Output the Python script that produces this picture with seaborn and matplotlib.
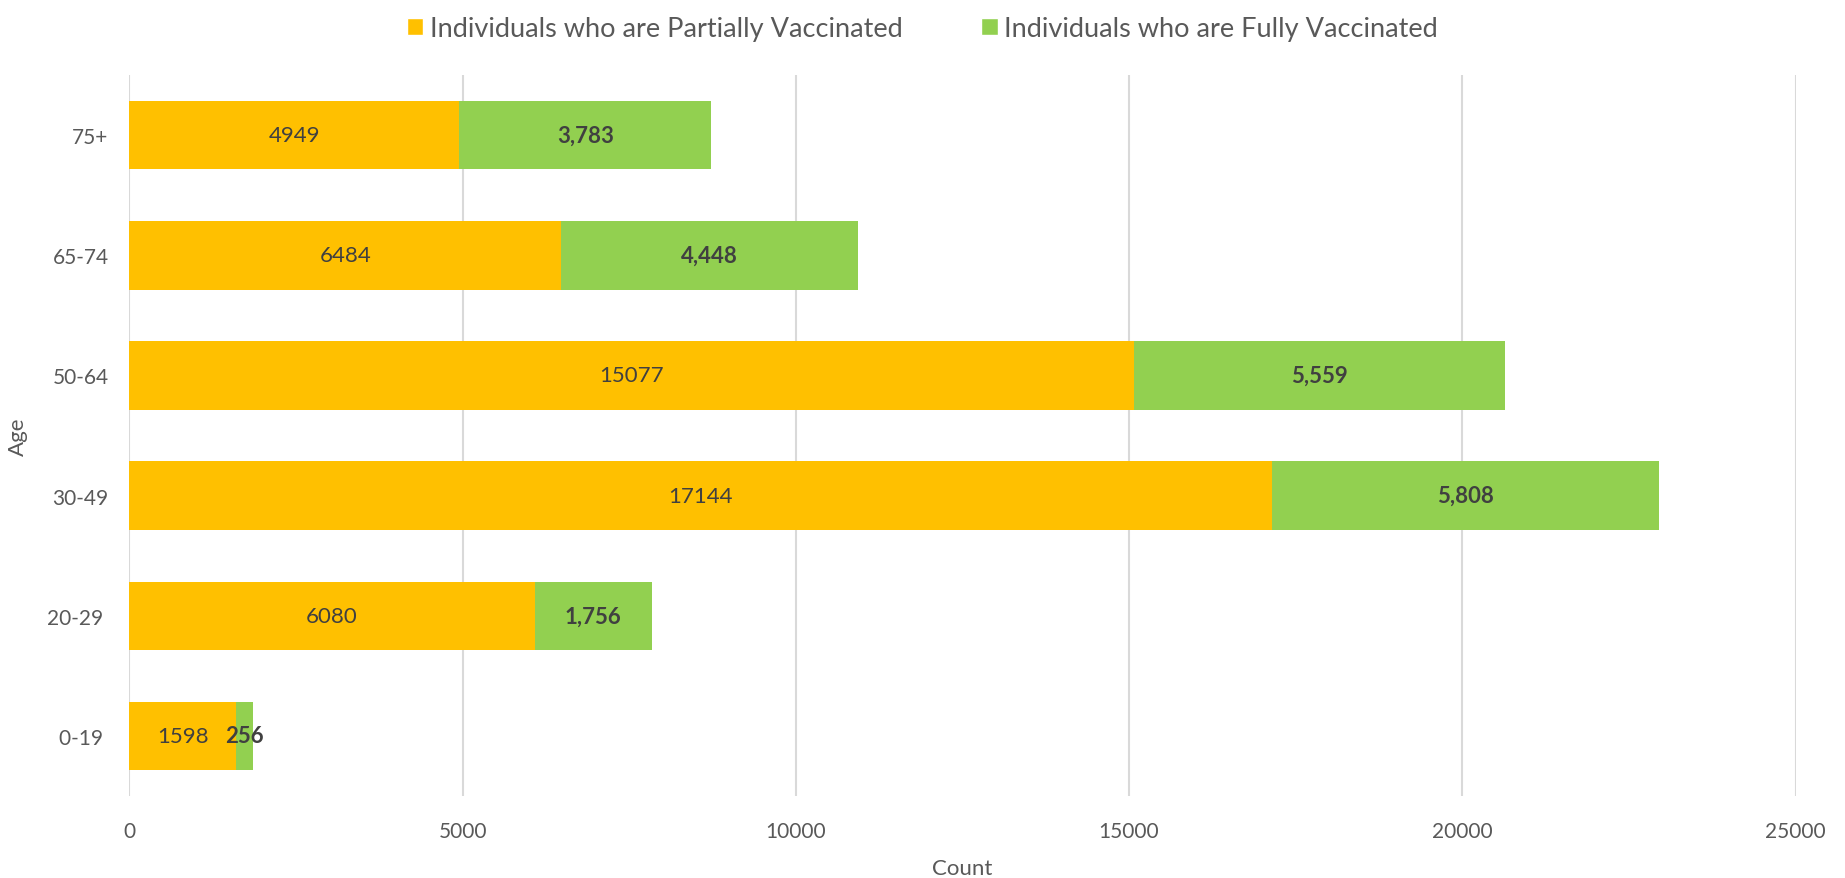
import pandas as pd
import matplotlib.pyplot as plt
import seaborn as sns
from matplotlib.patches import Patch

# values
age_groups = ["75+", "65-74", "50-64", "30-49", "20-29 ", "0-19 "]
partially_vaccinated = [4949, 6484, 15077, 17144, 6080, 1598]
fully_vaccinated = [3783, 4448, 5559, 5808, 1756, 256]
x_ticks = [0, 5000, 10000, 15000, 20000, 25000]

df = pd.DataFrame({
    "Age": age_groups,
    "Partial": partially_vaccinated,
    "Full": fully_vaccinated,
})
df["Total"] = df["Partial"] + df["Full"]

orange = "#FFC000"
green = "#92D050"
label_color = "#404040"
tick_color = "#595959"

sns.set_style("white")
plt.rcParams["font.family"] = ["Lato", "DejaVu Sans"]

fig = plt.figure(figsize=(18.45, 8.79), dpi=100)
ax = fig.add_axes([0.0701, 0.0933, 0.9031, 0.8202])

# stacked bars: draw the totals in green, then the partial part on top in orange
sns.barplot(data=df, x="Total", y="Age", color=green, width=0.57,
            saturation=1, orient="h", ax=ax, zorder=2, linewidth=0)
sns.barplot(data=df, x="Partial", y="Age", color=orange, width=0.57,
            saturation=1, orient="h", ax=ax, zorder=3, linewidth=0)

# labels
for i, row in df.iterrows():
    ax.text(row["Partial"] / 2, i, f"{row['Partial']}", ha="center", va="center",
            fontsize=16, color=label_color, zorder=4)
    ax.text(row["Partial"] + row["Full"] / 2, i, f"{row['Full']:,}", ha="center",
            va="center", fontsize=16, fontweight="bold", color=label_color, zorder=4)

ax.set_xlim(0, 25000)
ax.set_ylim(5.5, -0.5)
ax.set_xticks(x_ticks)
ax.set_xticklabels([str(t) for t in x_ticks])
ax.grid(axis="x", color="#D9D9D9", linewidth=1.5, zorder=0)
ax.grid(axis="y", visible=False)
for s in ax.spines.values():
    s.set_visible(False)
ax.tick_params(axis="x", length=0, pad=18, labelsize=15, labelcolor=tick_color)
ax.tick_params(axis="y", length=0, pad=15, labelsize=15, labelcolor=tick_color)
ax.set_xlabel("Count", fontsize=16, color=tick_color, labelpad=12)
ax.set_ylabel("Age", fontsize=16, color=tick_color, labelpad=14)

handles = [Patch(facecolor=orange, label="Individuals who are Partially Vaccinated"),
           Patch(facecolor=green, label="Individuals who are Fully Vaccinated")]
fig.legend(handles=handles, loc="upper center", bbox_to_anchor=(0.5, 1.008),
           ncol=2, frameon=False, fontsize=19.5, labelcolor=tick_color,
           handlelength=0.6, handleheight=0.6, handletextpad=0.25,
           columnspacing=2.9)

fig.savefig("out.png", dpi=100)
